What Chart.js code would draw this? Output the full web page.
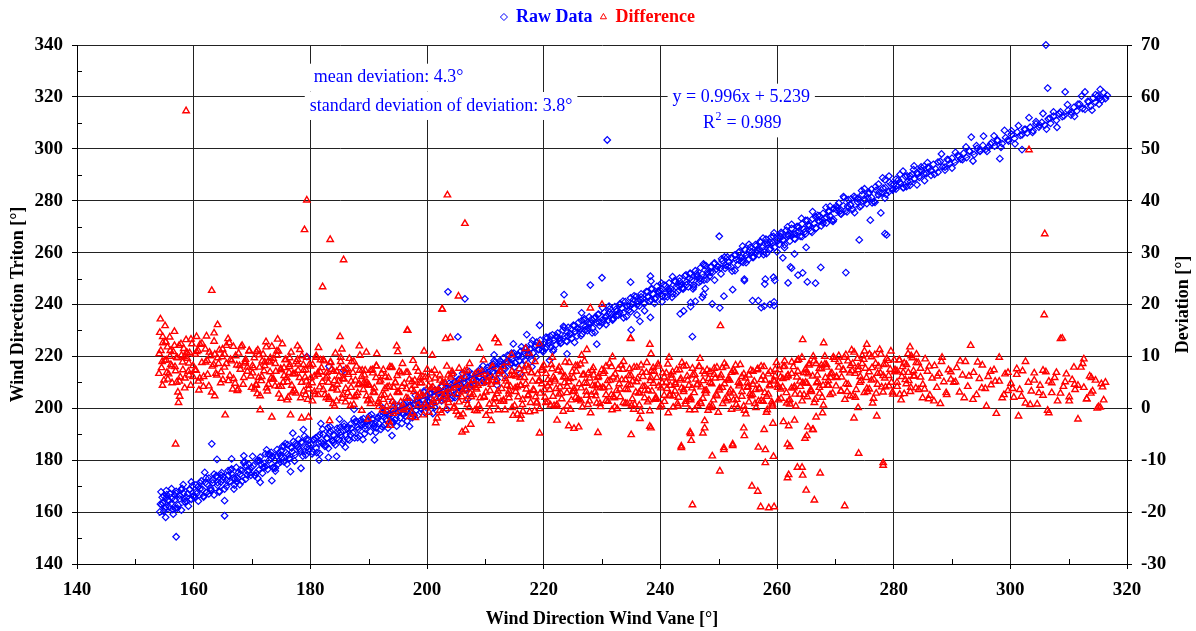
<!DOCTYPE html>
<html><head><meta charset="utf-8">
<script src="https://cdn.jsdelivr.net/npm/chart.js@4.4.1/dist/chart.umd.min.js"></script>
<style>html,body{margin:0;padding:0;background:#fff;}</style>
</head><body>
<canvas id="c" width="1196" height="631"></canvas>
<script>
// ---------- axis ticks ----------
const xTickValues = [140,160,180,200,220,240,260,280,300,320];
const yTickValues = [140,160,180,200,220,240,260,280,300,320,340];
const devTickValues = [-30,-20,-10,0,10,20,30,40,50,60,70];
const xMinorTicks = [150,170,190,210,230,250,270,290,310];
const yMinorTicks = [150,170,190,210,230,250,270,290,310,330];

// ---------- Raw Data: wind vane direction vs Triton direction ----------
const rawVane = [
154.2,154.4,154.7,154.9,155.1,155.3,155.6,155.8,156.0,156.3,
156.5,156.8,157.0,157.3,157.6,157.9,158.2,158.5,158.8,159.1,
159.3,159.6,159.8,155.2,156.9,158.0,157.0,155.3,154.5,156.2,
160.1,160.4,160.8,161.1,161.3,161.7,162.0,162.2,162.6,162.9,
163.2,163.5,163.9,164.1,164.4,164.8,165.0,165.3,165.3,165.6,
165.9,166.2,166.6,166.9,167.3,167.5,167.9,168.3,168.6,168.9,
169.2,169.5,169.8,163.0,164.7,166.5,168.0,161.9,160.5,167.0,
170.2,170.5,170.9,171.2,171.4,171.8,172.1,172.3,172.7,173.0,
173.3,173.6,173.9,174.3,174.5,174.9,175.2,175.5,175.8,176.1,
176.4,176.8,177.1,177.4,177.7,178.0,178.3,178.6,179.0,179.4,
179.7,171.0,173.5,175.0,177.0,178.8,174.0,176.0,172.5,179.2,
163.1,164.0,168.6,171.4,173.4,176.6,178.4,183.1,181.8,183.2,
185.7,179.4,
180.1,180.4,180.7,181.0,181.3,181.6,181.9,182.2,182.5,182.8,
183.1,183.4,183.7,184.0,184.3,184.6,184.9,185.2,185.5,185.8,
186.1,186.4,186.7,187.0,187.3,187.6,187.9,188.2,188.5,188.8,
189.1,189.4,189.7,181.5,184.5,186.0,187.5,189.0,185.0,183.0,
190.0,190.3,190.6,190.9,191.2,191.5,191.8,192.1,192.4,192.7,
193.0,193.3,193.6,193.9,194.2,194.5,194.8,195.1,195.4,195.7,
196.0,196.3,196.6,196.9,197.2,197.5,197.8,198.1,198.4,198.7,
199.0,199.3,199.6,199.9,191.0,194.0,197.0,192.5,196.0,198.0,
200.2,200.5,200.8,201.1,201.4,201.7,202.0,202.3,202.6,202.9,
203.2,203.5,203.8,204.1,204.4,204.7,205.0,205.3,205.6,205.9,
206.2,206.5,206.8,207.1,207.4,207.7,208.0,208.3,208.6,208.9,
209.2,209.5,209.8,201.0,203.5,205.3,206.5,203.6,207.0,204.5,
210.1,210.4,210.7,211.0,211.3,211.6,211.9,212.2,212.5,212.8,
213.1,213.4,213.7,214.0,214.3,214.6,214.9,215.2,215.5,215.8,
216.1,216.4,216.7,217.0,217.3,217.6,217.9,218.2,218.5,218.8,
219.1,219.4,219.7,211.5,214.8,217.1,219.3,212.0,216.0,218.0,
220.0,220.3,220.6,220.9,221.2,221.5,221.8,222.1,222.4,222.7,
223.0,223.3,223.6,223.9,224.2,224.5,224.8,225.1,225.4,225.7,
226.0,226.3,226.6,226.9,227.2,227.5,227.8,228.1,228.4,228.7,
229.0,229.3,229.6,223.5,228.0,230.0,229.1,221.0,224.0,226.5,
230.1,230.4,230.7,231.0,231.3,231.6,231.9,232.2,232.5,232.8,
233.1,233.4,233.7,234.0,234.3,234.6,234.9,235.2,235.5,235.8,
236.1,236.4,236.7,237.0,237.3,237.6,237.9,238.2,238.5,238.8,
239.1,239.4,239.7,230.9,234.9,238.3,238.4,238.3,235.0,236.5,
240.0,240.3,240.6,240.9,241.2,241.5,241.8,242.1,242.4,242.7,
243.0,243.3,243.6,243.9,244.2,244.5,244.8,245.1,245.4,245.7,
246.0,246.3,246.6,246.9,247.2,247.5,247.8,248.1,248.4,248.7,
249.0,249.3,249.6,243.4,245.5,245.2,245.2,247.2,247.4,247.7,
248.9,250.2,250.1,244.0,246.0,
250.3,250.6,250.9,251.2,251.5,251.8,252.1,252.4,252.7,253.0,
253.3,253.6,253.9,254.2,254.5,254.8,255.1,255.4,255.7,256.0,
256.3,256.6,256.9,257.2,257.5,257.8,258.1,258.4,258.7,259.0,
259.3,259.6,254.4,254.4,255.8,256.8,257.3,257.8,258.8,259.5,
257.9,258.0,259.4,259.5,259.6,
260.1,260.4,260.7,261.0,261.3,261.6,261.9,262.2,262.5,262.8,
263.1,263.4,263.7,264.0,264.3,264.6,264.9,265.2,265.5,265.8,
266.1,266.4,266.7,267.0,267.3,267.6,267.9,268.2,268.5,268.8,
269.1,269.4,269.7,261.9,262.3,262.5,263.6,264.4,265.2,266.6,
267.5,261.0,263.0,265.0,
270.2,270.6,271.0,271.4,271.8,272.2,272.6,273.0,273.4,273.8,
274.2,274.6,275.0,275.4,275.8,276.2,276.6,277.0,277.4,277.8,
278.2,278.5,278.8,279.2,279.6,271.8,274.1,278.5,278.5,276.0,
280.0,280.4,280.8,281.2,281.6,282.0,282.4,282.8,283.2,283.6,
284.0,284.4,284.8,285.2,285.6,286.0,286.4,286.8,287.2,287.6,
288.0,288.4,288.8,289.2,289.6,
290.0,290.5,291.0,291.5,292.0,292.5,293.0,293.3,293.8,294.3,
294.8,295.3,295.8,296.3,296.8,297.3,297.8,298.2,298.6,299.2,
299.7,
300.2,300.7,301.2,301.7,302.0,302.4,302.9,303.4,303.9,304.4,
304.9,305.4,305.9,306.4,306.1,306.5,306.9,307.4,307.9,308.4,
308.9,309.4,309.9,310.4,310.9,311.4,311.9,312.4,312.8,313.3,
313.8,314.2,314.6,315.0,315.4,315.7,316.0,316.3,316.6,315.2,
154.3,154.9,155.4,156.1,156.7,157.2,157.9,158.4,159.0,159.6,
160.2,160.8,161.5,162.1,162.6,163.3,163.9,164.4,165.1,165.7,
166.3,166.8,167.4,168.0,168.7,169.2,169.9,170.5,171.0,171.6,
172.2,172.8,173.3,174.0,174.6,175.1,175.7,176.4,176.9,177.5,
178.1,178.7,179.3,179.8,180.5,181.1,181.6,182.2,182.9,183.4,
184.0,184.7,185.2,185.8,186.4,187.0,187.6,188.1,188.8,189.4,
190.1,190.6,191.3,191.9,192.4,193.1,193.7,194.2,194.9,195.5,
196.0,196.6,197.2,197.8,198.3,199.0,199.5,200.1,200.7,201.3,
201.9,202.5,203.1,203.7,204.2,204.8,205.4,206.0,206.6,207.2,
207.8,208.4,209.0,209.6,210.2,210.8,211.4,212.0,212.6,213.2,
213.8,214.4,215.0,215.6,216.2,216.8,217.4,218.0,218.6,219.2,
219.8,220.4,221.0,221.6,222.2,222.8,223.4,224.0,224.6,225.2,
225.8,226.4,227.0,227.6,228.2,228.8,229.4,230.0,230.6,231.2,
231.8,232.4,233.0,233.6,234.2,234.8,235.4,236.0,236.6,237.2,
237.8,238.4,239.0,239.6,240.2,240.8,241.4,242.0,242.6,243.2,
243.8,244.4,245.0,245.6,246.2,246.8,247.4,248.0,248.6,249.2,
249.8,250.4,251.0,251.6,252.2,252.8,253.4,254.0,254.6,255.2,
255.8,256.4,257.0,257.6,258.2,258.8,259.4,260.0,260.6,261.2,
261.8,262.4,263.0,263.6,264.2,264.8,265.4,266.0,266.6,267.2,
267.8,268.4,269.0,269.6,270.2,270.8,271.4,272.0,272.6,273.2,
273.8,274.4,275.0,275.6,276.2,276.8,277.4,278.0,278.6,279.2,
279.8,280.4,281.0,281.6,282.2,282.8,283.4,284.0,284.6,285.2,
285.8,286.4,287.0,287.6,288.2,288.8,289.4,290.0,290.6,291.2,
291.8,292.4,293.0,293.6,294.2,294.8,295.4,296.0,296.6,297.2,
297.8,298.4,299.0,299.6,300.2,300.8,301.4,302.0,302.6,303.2,
303.8,304.4,305.0,305.6,306.2,306.8,307.4,308.0,308.6,309.2,
309.8,310.4,311.0,311.6,312.2,312.8,313.4,314.0,314.6,315.3,
154.6,155.2,155.8,156.4,157.0,157.6,158.2,158.8,159.3,159.9,
160.5,161.1,161.7,162.3,162.9,163.5,164.1,164.7,165.3,165.9,
166.5,167.1,167.7,168.3,168.9,169.5,170.1,170.7,171.3,171.9,
172.5,173.1,173.7,174.3,174.9,175.5,176.1,176.7,177.3,177.9,
178.5,179.1,179.7,180.3,180.9,181.5,182.1,182.7,183.3,183.9,
184.5,185.1,185.7,186.3,186.9,187.5,188.1,188.7,189.3,189.9,
190.5,191.1,191.7,192.3,192.9,193.5,194.1,194.7,195.3,195.9,
196.5,197.1,197.7,198.3,198.9,199.5,200.1,200.7,201.3,201.9,
202.5,203.1,203.7,204.3,204.9,205.5,206.1,206.7,207.3,207.9,
208.5,209.1,209.7,210.3,210.9,211.5,212.1,212.7,213.3,213.9,
214.5,215.1,215.7,216.3,216.9,217.5,218.1,218.7,219.3,219.9,
220.5,221.1,221.7,222.3,222.9,223.5,224.1,224.7,225.3,225.9,
226.5,227.1,227.7,228.3,228.9,229.5,230.1,230.7,231.3,231.9,
232.5,233.1,233.7,234.3,234.9,235.5,236.1,236.7,237.3,237.9,
238.5,239.1,239.7,240.3,240.9,241.5,242.1,242.7,243.3,243.9,
244.5,245.1,245.7,246.3,246.9,247.5,248.1,248.7,249.3,249.9,
250.5,251.1,251.7,252.3,252.9,253.5,254.1,254.7,255.3,255.9,
256.5,257.1,257.7,258.3,258.9,259.5,260.1,260.7,261.3,261.9,
262.5,263.1,263.7,264.3,264.9,265.5,266.1,266.7,267.3,267.9,
268.5,269.1,269.7,270.3,270.9,271.5,272.1,272.7,273.3,273.9,
274.5,275.1,275.7,276.3,276.9,277.5,278.1,278.7,279.3,279.9,
280.5,281.1,281.7,282.3,282.9,283.5,284.1,284.7,285.3,285.9
];
const rawTriton = [
160.1,167.8,163.5,166.2,161.4,168.3,164.6,162.0,167.1,165.3,
159.2,164.8,168.0,162.7,166.5,160.8,167.4,163.9,165.7,162.3,
168.6,164.9,170.2,158.0,161.5,169.1,150.5,165.5,162.8,169.0,
166.3,170.5,164.2,168.9,172.0,165.8,171.4,167.5,173.1,169.2,
172.4,166.6,174.0,170.3,168.1,175.2,172.5,164.4,158.6,169.9,
176.0,171.8,174.5,168.9,177.2,173.0,170.6,176.1,179.0,172.7,
175.8,178.3,174.2,168.4,171.7,180.5,174.6,175.3,168.0,170.4,
177.9,174.1,179.6,176.3,181.2,175.0,178.8,182.4,176.5,180.1,
183.0,177.2,179.9,184.1,178.6,181.8,185.3,179.4,182.9,186.0,
180.8,184.7,187.2,182.1,185.5,188.0,183.4,186.6,189.3,184.9,
187.8,173.0,181.5,183.6,190.4,191.8,175.8,178.5,184.0,182.0,
186.3,180.3,181.7,171.5,172.1,175.6,176.9,181.1,194.1,216.2,
214.6,219.9,
186.0,183.2,187.9,184.7,189.1,182.6,186.8,190.0,185.3,188.4,
184.6,191.2,187.5,189.6,185.9,192.3,188.0,190.9,186.4,193.0,
189.8,192.6,187.7,194.1,190.5,188.6,195.0,191.9,189.4,193.7,
196.0,192.1,194.9,180.0,181.5,185.0,199.6,188.0,195.8,192.5,
193.5,191.0,195.8,192.9,190.7,196.4,194.0,191.9,197.1,193.6,
195.9,192.4,197.5,194.8,199.0,195.5,193.1,198.6,196.3,194.2,
199.8,197.0,195.1,200.6,198.3,196.4,201.7,199.2,197.3,202.1,
200.0,203.4,198.4,201.6,187.8,189.5,193.0,198.5,201.8,205.0,
202.8,205.6,201.3,204.9,207.1,202.6,206.3,204.0,208.4,203.5,
207.7,205.1,209.6,206.4,204.8,210.2,207.9,206.0,211.1,208.6,
209.9,207.4,212.0,210.5,208.3,213.2,211.0,209.4,213.8,211.9,
214.5,210.9,212.8,198.0,199.5,227.5,242.2,244.9,203.5,213.0,
213.0,215.8,212.2,216.6,214.1,217.7,215.0,213.6,218.3,216.4,
219.4,215.2,217.9,220.1,216.8,219.0,221.3,217.5,220.6,218.4,
222.0,219.6,221.5,223.4,220.2,222.8,224.9,221.3,223.7,225.5,
222.6,226.3,224.0,220.6,224.8,228.4,232.0,208.9,213.4,216.0,
224.8,222.9,227.1,225.0,223.4,228.3,226.2,224.5,229.0,226.9,
225.3,230.1,227.8,226.0,231.2,228.9,227.0,232.0,229.6,227.8,
233.1,230.5,228.7,234.0,231.6,229.9,235.2,232.8,230.9,234.6,
233.0,236.1,231.8,243.8,247.5,250.3,224.7,218.5,221.0,236.8,
234.2,237.0,235.5,233.8,238.3,236.1,234.7,239.2,237.4,235.9,
240.3,238.6,236.7,241.1,239.4,237.8,242.5,240.2,238.4,243.0,
241.2,239.5,244.1,242.3,240.4,245.0,243.1,241.3,246.2,244.0,
242.5,247.0,245.1,303.4,248.6,250.9,249.0,235.0,230.2,233.5,
245.4,243.1,247.6,244.8,242.9,248.3,246.0,244.2,249.1,246.8,
245.0,250.2,247.6,245.9,251.0,248.7,246.8,252.1,249.5,247.5,
253.0,250.6,248.5,254.2,251.7,249.4,255.0,252.6,250.8,254.4,
252.5,256.0,253.6,236.4,227.6,240.8,239.2,242.8,243.9,246.1,
240.2,238.7,266.3,237.5,241.2,
254.0,256.8,243.2,255.1,258.3,256.4,254.6,245.7,259.0,257.2,
255.3,260.4,258.0,256.2,261.2,259.1,257.3,262.0,260.3,258.4,
263.1,261.0,259.2,264.0,261.9,260.3,265.2,263.0,261.1,266.0,
263.8,262.0,249.2,249.8,241.5,241.5,238.8,239.4,240.0,241.0,
247.9,249.8,250.5,239.6,249.3,
265.5,263.2,267.8,264.9,263.0,268.6,266.5,264.4,269.3,267.1,
265.2,270.0,268.2,266.3,271.1,269.0,267.2,272.4,270.2,268.3,
273.0,271.2,269.4,274.3,272.0,270.3,275.1,273.2,271.4,276.0,
274.1,272.4,277.0,248.3,254.5,254.0,251.3,252.2,248.7,248.2,
254.3,258.0,259.5,262.0,
276.5,279.1,274.8,278.0,276.2,280.4,278.3,276.7,281.2,279.5,
277.6,282.4,280.6,278.9,283.2,281.3,279.6,284.0,282.2,275.3,
284.8,267.3,266.8,283.5,286.4,252.3,264.9,281.0,288.0,272.5,
286.3,284.5,288.0,286.8,285.0,289.4,287.3,285.9,290.2,288.4,
290.8,289.0,291.6,293.2,290.4,292.5,289.8,294.0,292.3,291.0,
295.1,293.0,291.8,295.9,294.2,
296.4,294.8,297.5,296.0,298.3,296.6,299.0,304.5,297.8,300.2,
299.0,301.3,299.8,300.7,302.4,301.0,303.1,296.2,302.0,304.3,
303.0,
305.6,304.0,306.4,305.2,299.7,307.5,306.1,308.3,307.0,309.6,
308.4,310.2,309.1,323.4,340.0,311.5,309.8,312.6,311.0,313.5,
312.4,321.9,314.8,313.0,316.0,314.6,317.2,315.5,321.9,318.4,
316.5,319.6,318.0,320.5,322.9,318.8,321.6,319.3,320.6,317.2,
163.1,160.3,166.7,163.2,166.6,161.5,168.6,165.0,167.1,171.6,
165.7,169.9,168.7,173.1,167.0,171.3,173.7,167.7,173.7,172.2,
176.2,173.2,171.6,176.3,179.5,174.3,177.2,174.1,180.0,178.4,
177.4,182.3,180.7,176.9,182.8,180.8,186.4,180.6,183.3,186.5,
184.4,181.6,188.1,184.4,187.9,182.9,189.8,186.3,188.5,192.9,
186.8,191.1,189.7,194.1,188.1,192.3,194.7,188.7,194.7,193.2,
197.0,194.0,192.5,197.2,200.2,195.2,198.0,194.8,200.9,199.3,
197.7,202.6,201.1,197.2,203.0,201.2,206.7,200.8,203.6,206.8,
205.7,202.9,209.4,205.8,209.1,204.1,211.1,207.6,209.7,214.2,
209.1,213.3,212.0,216.4,210.4,214.6,217.0,211.1,217.0,215.5,
220.4,217.5,215.9,220.6,223.7,218.6,221.4,218.3,224.3,222.7,
222.5,227.4,225.9,222.0,227.9,226.0,231.6,225.7,228.5,231.7,
230.8,228.0,234.5,230.9,234.3,229.3,236.3,232.8,234.9,239.4,
234.0,238.2,236.9,241.3,235.3,239.5,241.9,236.0,241.9,240.4,
244.9,242.0,240.4,245.1,248.2,243.1,245.9,242.8,248.8,247.2,
246.5,251.4,249.9,246.0,251.9,250.0,255.6,249.7,252.5,255.7,
254.6,251.8,258.3,254.7,258.1,253.1,260.1,256.6,258.7,263.2,
258.3,262.5,261.2,265.6,259.6,263.8,266.2,260.3,266.2,264.7,
269.9,267.0,265.4,270.1,273.2,268.1,270.9,267.8,273.8,272.2,
272.5,277.4,275.9,272.0,277.9,276.0,281.6,275.7,278.5,281.7,
280.9,278.1,284.6,281.0,284.4,279.4,286.4,282.9,285.0,289.5,
284.1,288.3,287.0,291.4,285.4,289.6,292.0,286.1,292.0,290.5,
294.7,291.8,290.2,294.9,298.0,292.9,295.7,292.6,298.6,297.0,
295.8,300.7,299.2,295.3,301.2,299.3,304.9,299.0,301.8,305.0,
303.4,300.6,307.1,303.5,306.9,301.9,308.9,305.4,307.5,312.0,
306.3,310.5,309.2,313.6,307.6,311.8,314.2,308.3,314.2,312.7,
317.0,314.1,312.5,317.2,320.3,315.2,318.0,314.9,320.9,319.4,
165.7,162.0,164.4,161.0,167.2,165.1,170.6,164.2,168.8,166.1,
167.1,171.3,166.2,170.8,168.5,174.6,171.4,174.2,168.9,174.1,
176.6,172.9,175.3,171.9,178.1,176.0,181.5,175.1,179.8,177.1,
177.9,182.1,177.0,181.6,179.3,185.4,182.2,185.0,179.7,184.9,
187.1,183.4,185.8,182.4,188.6,186.5,192.0,185.6,190.3,187.6,
188.4,192.6,187.5,192.1,189.8,195.9,192.7,195.5,190.2,195.4,
197.6,193.9,196.3,192.9,199.1,197.0,202.5,196.1,200.8,198.1,
198.6,202.8,197.7,202.3,200.0,206.1,202.9,205.7,200.4,205.6,
208.6,204.9,207.3,203.9,210.1,208.0,213.5,207.1,211.8,209.1,
210.9,215.1,210.0,214.6,212.3,218.4,215.2,218.0,212.7,217.9,
221.3,217.6,220.0,216.6,222.8,220.7,226.2,219.8,224.5,221.8,
223.6,227.8,222.7,227.3,225.0,231.1,227.9,230.7,225.4,230.6,
233.8,230.1,232.5,229.1,235.3,233.2,238.7,232.3,237.0,234.3,
235.8,240.0,234.9,239.5,237.2,243.3,240.1,242.9,237.6,242.8,
245.8,242.1,244.5,241.1,247.3,245.2,250.7,244.3,249.0,246.3,
247.6,251.8,246.7,251.3,249.0,255.1,251.9,254.7,249.4,254.6,
257.6,253.9,256.3,252.9,259.1,257.0,262.5,256.1,260.8,258.1,
260.1,264.3,259.2,263.8,261.5,267.6,264.4,267.2,261.9,267.1,
270.9,267.2,269.6,266.2,272.4,270.3,275.8,269.4,274.1,271.4,
273.6,277.8,272.7,277.3,275.0,281.1,277.9,280.7,275.4,280.6,
283.9,280.2,282.6,279.2,285.4,283.3,288.8,282.4,287.1,284.4,
285.9,290.1,285.0,289.6,287.3,293.4,290.2,293.0,287.7,292.9
];

// ---------- Difference: wind vane direction vs deviation ----------
const diffVane = [
154.1,154.3,154.5,154.7,154.9,155.1,155.3,155.5,155.7,155.9,
156.1,156.3,156.5,156.7,156.9,157.1,157.3,157.5,157.7,157.9,
158.1,158.3,158.5,158.7,158.9,159.1,159.3,159.5,159.7,159.9,
154.6,155.4,156.0,156.8,157.6,158.4,159.2,155.2,157.4,158.8,
160.2,160.5,160.8,161.1,161.4,161.7,162.0,162.3,162.6,162.9,
163.2,163.5,163.8,164.1,164.4,164.7,165.0,165.3,165.6,165.9,
166.2,166.5,166.8,167.1,167.4,167.7,168.0,168.3,168.6,168.9,
169.2,169.5,169.8,160.9,162.2,163.6,164.9,166.1,167.6,168.8,
170.1,170.4,170.7,171.0,171.3,171.6,171.9,172.2,172.5,172.8,
173.1,173.4,173.7,174.0,174.3,174.6,174.9,175.2,175.5,175.8,
176.1,176.4,176.7,177.0,177.3,177.6,177.9,178.2,178.5,178.8,
179.1,179.4,179.7,170.9,172.4,174.4,176.2,177.8,179.2,175.0,
180.1,180.4,180.7,181.0,181.3,181.6,181.9,182.2,182.5,182.8,
183.1,183.4,183.7,184.0,184.3,184.6,184.9,185.2,185.5,185.8,
186.1,186.4,186.7,187.0,187.3,187.6,187.9,188.2,188.5,188.8,
189.1,189.4,189.7,181.4,183.9,185.4,186.9,188.4,189.9,184.5,
190.1,190.4,190.7,191.0,191.3,191.6,191.9,192.2,192.5,192.8,
193.1,193.4,193.7,194.0,194.3,194.6,194.9,195.2,195.5,195.8,
196.1,196.4,196.7,197.0,197.3,197.6,197.9,198.2,198.5,198.8,
199.1,199.4,199.7,191.4,193.5,195.0,196.6,198.0,199.5,194.2,
200.1,200.4,200.7,201.0,201.3,201.6,201.9,202.2,202.5,202.8,
203.1,203.4,203.7,204.0,204.3,204.6,204.9,205.2,205.5,205.8,
206.1,206.4,206.7,207.0,207.3,207.6,207.9,208.2,208.5,208.8,
209.1,209.4,209.7,200.9,202.6,203.5,206.5,204.0,205.4,206.6,
203.2,206.0,201.5,207.5,209.0,
210.1,210.4,210.7,211.0,211.3,211.6,211.9,212.2,212.5,212.8,
213.1,213.4,213.7,214.0,214.3,214.6,214.9,215.2,215.5,215.8,
216.1,216.4,216.7,217.0,217.3,217.6,217.9,218.2,218.5,218.8,
219.1,219.4,219.7,211.7,212.2,216.9,219.3,216.0,216.1,219.3,
214.5,217.5,211.0,
220.1,220.4,220.7,221.0,221.3,221.6,221.9,222.2,222.5,222.8,
223.1,223.4,223.7,224.0,224.3,224.6,224.9,225.2,225.5,225.8,
226.1,226.4,226.7,227.0,227.3,227.6,227.9,228.2,228.5,228.8,
229.1,229.4,229.7,223.5,228.0,222.3,224.3,225.2,226.0,227.4,
229.3,221.5,226.5,
230.1,230.4,230.7,231.0,231.3,231.6,231.9,232.2,232.5,232.8,
233.1,233.4,233.7,234.0,234.3,234.6,234.9,235.2,235.5,235.8,
236.1,236.4,236.7,237.0,237.3,237.6,237.9,238.2,238.5,238.8,
239.1,239.4,239.7,230.0,234.9,238.2,238.4,235.0,238.4,238.2,
234.9,231.8,236.5,
240.1,240.4,240.7,241.0,241.3,241.6,241.9,242.2,242.5,242.8,
243.1,243.4,243.7,244.0,244.3,244.6,244.9,245.2,245.5,245.8,
246.1,246.4,246.7,247.0,247.3,247.6,247.9,248.2,248.5,248.8,
249.1,249.4,249.7,245.5,243.6,245.2,245.3,247.3,247.6,247.6,
248.9,245.1,243.6,241.5,246.8,
250.1,250.4,250.7,251.0,251.3,251.6,251.9,252.2,252.5,252.8,
253.1,253.4,253.7,254.0,254.3,254.6,254.9,255.2,255.5,255.8,
256.1,256.4,256.7,257.0,257.3,257.6,257.9,258.2,258.5,258.8,
259.1,259.4,259.7,250.2,250.9,250.3,252.4,250.9,252.4,255.7,
256.7,257.2,258.6,259.5,258.0,259.4,256.8,258.0,254.3,254.4,
257.8,259.3,
260.1,260.4,260.7,261.0,261.3,261.6,261.9,262.2,262.5,262.8,
263.1,263.4,263.7,264.0,264.3,264.6,264.9,265.2,265.5,265.8,
266.1,266.4,266.7,267.0,267.3,267.6,267.9,268.2,268.5,268.8,
269.1,269.4,269.7,261.8,262.0,264.4,263.5,264.3,265.0,266.4,
267.4,261.8,262.2,264.8,265.1,265.3,266.1,261.1,262.0,263.0,
266.7,267.8,264.4,268.0,266.2,
270.2,270.6,271.0,271.4,271.8,272.2,272.6,273.0,273.4,273.8,
274.2,274.6,275.0,275.4,275.8,276.2,276.6,277.0,277.4,277.8,
278.2,278.6,279.0,279.4,279.8,271.6,274.0,278.2,278.2,273.2,
273.9,277.1,275.4,272.8,276.4,
280.2,280.6,281.0,281.4,281.8,282.2,282.6,283.0,283.4,283.8,
284.2,284.6,285.0,285.4,285.8,286.2,286.6,287.0,287.4,287.8,
288.2,288.6,289.0,289.4,289.8,282.8,286.0,288.0,
290.3,290.8,291.3,291.8,292.3,292.7,293.2,293.7,294.2,294.7,
295.2,295.7,296.2,296.7,297.2,297.6,298.1,298.6,299.1,299.6,
300.1,300.6,301.1,301.4,301.6,302.1,302.6,303.1,303.2,303.6,
304.1,304.6,305.1,305.6,305.9,305.8,306.1,306.6,306.6,307.1,
307.6,308.1,308.6,308.9,309.1,309.6,310.1,310.6,311.1,311.6,
312.1,312.6,313.1,313.6,314.1,314.6,315.1,315.6,316.0,316.3,
312.6,313.8,314.9,311.0,315.8,
158.7,163.1,164.1,163.5,154.2,154.7,160.5,179.4,179.0,183.4,
185.7,182.1,185.1,196.7,202.6,156.9,165.4,171.4,173.4,176.6,
178.5,179.7,183.3,189.9,193.7,211.7,194.8,189.6,
154.05,154.38,154.66,155.02,155.21,155.57,155.93,156.24,156.71,157.08,
157.22,157.55,157.83,158.15,158.46,158.92,159.18,159.54,159.88,160.27,
160.41,160.77,161.05,161.42,161.66,162.04,162.39,162.72,163.08,163.45,
163.62,163.97,164.26,164.63,164.95,165.28,165.61,165.97,166.32,166.69,
166.84,167.19,167.47,167.86,168.12,168.48,168.83,169.21,169.54,169.92,
170.08,170.43,170.74,171.12,171.39,171.75,172.06,172.44,172.81,173.12,
173.27,173.63,173.95,174.28,174.61,174.99,175.33,175.66,176.02,176.35,
176.48,176.83,177.14,177.52,177.81,178.16,178.54,178.87,179.23,179.55,
179.69,180.02,180.37,180.68,181.04,181.33,181.72,182.05,182.38,182.74,
182.86,183.21,183.49,183.88,184.17,184.53,184.86,185.22,185.57,185.93,
186.07,186.41,186.78,187.09,187.45,187.73,188.12,188.46,188.81,189.13,
189.28,189.64,189.92,190.31,190.62,190.97,191.35,191.66,192.03,192.37,
192.51,192.86,193.17,193.52,193.84,194.23,194.55,194.91,195.24,195.58,
195.72,196.05,196.43,196.74,197.11,197.42,197.79,198.13,198.45,198.82,
198.96,199.32,199.63,200.04,200.36,200.72,201.03,201.39,201.74,202.08,
202.24,202.57,202.93,203.26,203.64,203.95,204.31,204.66,204.98,205.35,
205.49,205.82,206.18,206.53,206.85,207.24,207.56,207.93,208.27,208.59,
208.74,209.08,209.42,209.77,210.12,210.46,210.81,211.15,211.48,211.84,
211.97,212.34,212.68,213.01,213.37,213.72,214.05,214.41,214.76,215.12,
215.31,215.64,216.02,216.35,216.71,217.04,217.42,217.75,218.09,218.46,
218.62,218.97,219.31,219.68,220.02,220.38,220.73,221.06,221.44,221.79,
221.93,222.28,222.65,222.97,223.35,223.69,224.04,224.37,224.74,225.08,
225.25,225.61,225.93,226.31,226.64,226.99,227.36,227.68,228.05,228.39,
228.57,228.93,229.27,229.64,229.97,230.33,230.68,231.03,231.39,231.72,
231.91,232.26,232.61,232.95,233.32,233.66,234.01,234.38,234.72,235.07,
235.24,235.59,235.96,236.29,236.63,237.01,237.34,237.69,238.05,238.38,
238.56,238.91,239.27,239.62,239.95,240.31,240.66,241.02,241.36,241.71,
241.88,242.24,242.58,242.93,243.29,243.64,243.98,244.33,244.69,245.03,
245.21,245.56,245.91,246.27,246.61,246.96,247.32,247.66,248.01,248.37,
248.54,248.89,249.24,249.58,249.93,250.29,250.63,250.98,251.34,251.68,
251.86,252.21,252.55,252.91,253.26,253.61,253.96,254.31,254.66,255.01,
255.18,255.53,255.88,256.23,256.58,256.93,257.28,257.63,257.98,258.33,
258.51,258.86,259.21,259.56,259.91,260.26,260.61,260.96,261.31,261.66,
261.83,262.18,262.53,262.88,263.23,263.58,263.93,264.28,264.63,264.98,
265.16,265.51,265.86,266.21,266.56,266.91,267.26,267.61,267.96,268.31,
268.49,268.84,269.19,269.54,269.89,270.24,270.59,270.94,271.29,271.64,
271.82,272.17,272.52,272.87,273.22,273.57,273.92,274.27,274.62,274.97,
275.15,275.50,275.85,276.20,276.55,276.90,277.25,277.60,277.95,278.30,
278.48,278.83,279.18,279.53,279.88,280.23,280.58,280.93,281.28,281.63,
281.81,282.16,282.51,282.86,283.21,283.56,283.91,284.26,284.61,284.96,
285.3,286.1,286.9,287.5,288.3,289.1,289.8,290.6,291.4,292.1,
292.9,293.6,294.4,295.1,295.9,296.6,297.4,298.1,298.9,299.6,
300.4,301.1,301.9,302.6,303.4,304.1,304.9,305.6,306.4,307.1,
307.9,308.6,309.4,310.1,310.9,311.6,312.4,313.1,313.9,315.4,
170.25,170.72,171.21,171.68,172.17,172.63,173.14,173.58,174.09,174.53,
175.04,175.49,175.97,176.46,176.93,177.41,177.88,178.36,178.84,179.31,
179.83,180.31,180.79,181.26,181.74,182.21,182.69,183.17,183.64,184.12,
184.61,185.08,185.56,186.03,186.51,186.98,187.46,187.94,188.41,188.89,
189.37,189.84,190.32,190.79,191.27,191.74,192.22,192.69,193.17,193.64,
194.12,194.59,195.07,195.54,196.02,196.49,196.97,197.44,197.92,198.39,
198.87,199.34,199.82,200.29,200.77,201.24,201.72,202.19,202.67,203.14,
203.62,204.09,204.57,205.04,205.52,205.99,206.47,206.94,207.42,207.89,
208.37,208.84,209.32,209.79,210.27,210.74,211.22,211.69,212.17,212.64,
213.12,213.59,214.07,214.54,215.02,215.49,215.97,216.44,216.92,217.39,
217.87,218.34,218.82,219.29,219.77,220.24,220.72,221.19,221.67,222.14,
222.62,223.09,223.57,224.04,224.52,224.99,225.47,225.94,226.42,226.89,
227.37,227.84,228.32,228.79,229.27,229.74,230.22,230.69,231.17,231.64,
232.12,232.59,233.07,233.54,234.02,234.49,234.97,235.44,235.92,236.39,
236.87,237.34,237.82,238.29,238.77,239.24,239.72,240.19,240.67,241.14,
241.62,242.09,242.57,243.04,243.52,243.99,244.47,244.94,245.42,245.89,
246.37,246.84,247.32,247.79,248.27,248.74,249.22,249.69,250.17,250.64,
251.12,251.59,252.07,252.54,253.02,253.49,253.97,254.44,254.92,255.39,
255.87,256.34,256.82,257.29,257.77,258.24,258.72,259.19,259.67,260.14,
260.62,261.09,261.57,262.04,262.52,262.99,263.47,263.94,264.42,264.89,
265.37,265.84,266.32,266.79,267.27,267.74,268.22,268.69,269.17,269.64,
270.12,270.59,271.07,271.54,272.02,272.49,272.97,273.44,273.92,274.39,
274.87,275.34,275.82,276.29,276.77,277.24,277.72,278.19,278.67,279.14,
279.62,280.09,280.57,281.04,281.52,281.99,282.47,282.94,283.42,283.89
];
const diffDev = [
10.5,17.2,7.8,12.6,5.4,15.9,9.3,11.8,6.6,13.7,
8.4,4.9,10.9,14.8,7.2,9.8,3.1,12.1,6.0,10.2,
8.9,11.5,5.8,13.2,9.6,7.1,10.7,4.4,12.4,8.2,
9.0,6.9,11.1,8.0,2.3,9.9,6.4,12.8,1.1,10.8,
7.4,10.9,5.2,12.3,8.8,6.1,11.4,9.2,4.3,10.1,
8.1,12.9,6.7,9.7,11.2,7.0,5.5,10.4,8.6,13.4,
6.3,9.1,11.9,4.8,8.3,10.6,7.5,12.1,5.9,9.4,
7.9,11.0,6.2,3.5,13.9,2.4,9.9,12.6,3.7,8.7,
6.8,9.7,4.6,11.2,7.9,5.3,10.4,8.2,3.9,9.1,
7.0,11.9,5.6,8.6,10.2,4.2,7.6,12.4,6.3,9.4,
5.1,8.0,10.8,6.6,3.4,9.0,7.3,11.3,5.0,8.4,
6.0,9.8,4.4,2.8,12.8,13.3,2.1,12.0,2.6,1.9,
5.9,8.4,3.2,10.1,6.5,4.1,7.8,9.3,2.6,6.9,
5.0,8.8,3.8,7.1,10.6,4.6,6.2,9.0,1.9,5.6,
7.6,3.0,9.6,5.2,6.9,2.2,8.1,4.5,10.2,6.1,
3.6,7.3,5.0,11.7,0.9,11.4,0.5,12.0,1.6,1.4,
4.4,1.6,6.8,3.0,8.2,0.9,5.1,2.5,7.4,3.8,
0.4,5.9,2.1,7.9,4.0,-0.6,6.3,3.1,1.2,8.6,
4.8,2.0,6.9,0.2,3.6,9.2,5.4,1.4,7.1,2.9,
4.9,-1.3,6.0,10.5,-2.6,10.9,15.0,-1.8,11.0,-1.0,
2.7,5.6,0.5,4.1,7.3,1.9,3.5,6.4,-0.9,2.3,
5.0,8.1,1.1,3.9,6.7,0.0,4.6,2.6,7.7,-1.6,
3.3,6.1,1.5,4.3,8.6,2.2,5.4,-0.4,3.7,6.9,
2.0,4.8,9.3,10.2,19.1,41.1,35.6,13.6,21.6,-4.2,
13.4,-4.6,-2.8,-3.1,11.6,
3.1,6.2,0.8,4.6,8.0,2.0,5.3,-0.3,7.1,3.8,
1.3,5.7,8.8,2.7,4.2,0.1,6.5,3.2,-1.1,7.6,
4.4,1.7,5.9,8.3,2.4,-0.7,6.8,3.6,9.0,1.0,
5.2,2.9,7.3,13.4,12.6,11.5,12.4,-2.1,-1.4,-4.8,
10.3,10.6,-2.4,
3.6,6.7,1.2,4.9,8.4,2.3,5.6,0.4,7.3,4.1,
1.8,6.0,8.9,3.0,5.1,-0.2,7.0,3.8,2.1,8.2,
4.7,1.4,6.4,9.1,3.2,0.7,5.8,2.6,7.8,4.3,
1.0,6.1,3.9,20.0,19.3,-2.3,-3.4,-3.9,-3.6,11.3,
-4.7,9.8,10.2,
4.0,7.1,1.5,5.3,8.7,2.6,6.0,0.3,3.4,7.6,
2.2,5.5,9.0,3.7,0.9,6.3,4.5,1.8,7.9,3.1,
5.7,0.6,8.3,4.2,2.0,6.9,3.5,-0.5,7.2,4.8,
1.7,5.9,8.1,20.0,13.5,12.3,10.5,-5.1,-3.8,-3.5,
13.4,9.9,-2.0,
3.9,6.8,1.3,5.0,8.5,2.4,5.8,0.2,3.3,7.4,
2.1,5.4,8.8,3.6,0.8,6.2,4.4,1.6,7.7,3.0,
5.6,0.5,8.0,4.1,1.9,6.6,3.4,-0.4,7.0,4.7,
1.6,5.8,7.9,-18.6,-7.6,-4.9,-6.2,-4.8,-3.8,-2.4,
-9.2,-4.6,-7.3,9.8,9.6,
3.5,6.4,0.9,4.7,8.1,2.0,5.4,-0.2,2.9,7.0,
1.7,5.0,8.4,3.2,0.4,5.8,4.0,1.2,7.3,2.6,
5.2,0.1,7.6,3.7,1.5,6.2,3.0,-0.8,6.6,4.3,
1.2,5.4,7.5,-12.1,-8.0,15.9,-7.2,-7.6,-6.9,-15.0,
-16.0,-19.0,-19.2,-19.0,-10.5,-9.3,-7.5,-8.0,-3.8,-5.3,
-4.1,-2.9,
4.5,7.4,1.9,5.7,9.1,3.0,6.4,0.8,3.9,8.0,
2.7,6.0,9.4,4.2,1.4,6.8,5.0,2.2,8.3,3.6,
6.2,1.1,8.6,5.1,2.9,7.6,4.4,10.0,7.9,5.3,
2.6,6.8,9.8,-13.4,-12.8,-12.9,-11.4,-11.4,-15.8,-17.7,
-12.5,-6.9,-7.4,-5.8,-5.3,-3.6,-4.1,-2.6,-3.4,-2.3,
-1.7,-0.9,13.2,12.6,-4.1,
6.1,9.0,3.3,7.4,10.3,4.6,8.2,2.4,6.7,9.6,
5.0,8.6,11.0,3.8,7.0,9.9,5.6,2.9,8.1,10.4,
6.3,4.1,9.2,7.5,3.1,-18.8,-8.7,-10.5,-11.0,-1.9,
0.1,-1.5,12.3,11.2,1.0,
7.0,4.2,9.3,6.1,2.8,8.4,5.3,10.1,7.2,3.9,
8.8,6.0,4.6,9.5,7.1,2.5,5.8,8.2,4.0,6.7,
9.0,5.1,3.0,7.4,5.6,11.8,1.8,0.9,
5.0,7.8,3.1,6.4,9.0,4.2,12.1,6.9,2.6,5.7,
8.3,3.8,6.1,4.5,7.4,-1.0,5.2,2.0,6.6,3.4,
4.8,2.1,6.5,-1.5,3.6,7.2,1.0,5.0,49.8,3.3,
6.8,0.8,4.4,2.5,33.6,18.0,7.0,5.2,-0.9,3.0,
5.9,1.4,13.4,13.5,4.2,6.6,2.2,5.5,3.6,-2.1,
7.9,4.0,1.8,6.2,3.3,5.4,0.3,4.7,1.6,5.0,
9.5,2.9,0.0,4.6,4.1,
57.3,22.7,16.1,14.5,14.6,13.8,13.8,40.1,34.4,32.5,
28.6,23.4,13.8,15.0,19.1,-6.9,-1.3,-0.3,-1.7,-1.3,
-1.9,-1.7,-2.4,-2.1,-3.3,13.4,12.0,10.8,
6.7,11.1,4.4,9.2,12.8,5.6,10.0,8.1,12.1,5.0,
9.7,5.2,12.4,7.4,3.9,10.6,8.7,13.3,6.1,10.4,
7.3,11.1,5.8,12.5,4.2,8.9,6.5,10.8,3.1,8.4,
10.4,6.4,8.6,4.9,11.4,7.9,12.1,5.3,9.4,3.7,
5.7,10.1,3.4,8.2,11.8,4.6,9.0,7.1,11.1,4.0,
8.2,3.7,10.9,5.9,2.4,9.1,7.2,11.8,4.6,8.9,
5.8,9.6,4.3,11.0,2.7,7.4,5.0,9.3,1.6,6.9,
8.4,4.4,6.6,2.9,9.4,5.9,10.1,3.3,7.4,1.7,
3.7,8.1,1.4,6.2,9.8,2.6,7.0,5.1,9.1,2.0,
6.2,1.7,8.9,3.9,0.4,7.1,5.2,9.8,2.6,6.9,
3.8,7.6,2.3,9.0,0.7,5.4,3.0,7.3,-0.4,4.9,
6.4,2.4,4.6,0.9,7.4,3.9,8.1,1.3,5.4,-0.3,
1.7,6.1,-0.6,4.2,7.8,0.6,5.0,3.1,7.1,0.0,
4.2,-0.3,6.9,1.9,-1.6,5.1,3.2,7.8,0.6,4.9,
2.3,6.1,0.8,7.5,-0.8,3.9,1.5,5.8,-1.9,3.4,
5.4,1.4,3.6,-0.1,6.4,2.9,7.1,0.3,4.4,-1.3,
1.2,5.6,-1.1,3.7,7.3,0.1,4.5,2.6,6.6,-0.5,
4.4,-0.1,7.1,2.1,-1.4,5.3,3.4,8.0,0.8,5.1,
2.8,6.6,1.3,8.0,-0.3,4.4,2.0,6.3,-1.4,3.9,
6.2,2.2,4.4,0.7,7.2,3.7,7.9,1.1,5.2,-0.5,
2.2,6.6,-0.1,4.7,8.3,1.1,5.5,3.6,7.6,0.5,
5.2,0.7,7.9,2.9,-0.6,6.1,4.2,8.8,1.6,5.9,
3.3,7.1,1.8,8.5,0.2,4.9,2.5,6.8,-0.9,4.4,
6.4,2.4,4.6,0.9,7.4,3.9,8.1,1.3,5.4,-0.3,
2.2,6.6,-0.1,4.7,8.3,1.1,5.5,3.6,7.6,0.5,
5.2,0.7,7.9,2.9,-0.6,6.1,4.2,8.8,1.6,5.9,
3.3,7.1,1.8,8.5,0.2,4.9,2.5,6.8,-0.9,4.4,
6.4,2.4,4.6,0.9,7.4,3.9,8.1,1.3,5.4,-0.3,
2.0,6.4,-0.3,4.5,8.1,0.9,5.3,3.4,7.4,0.3,
5.0,0.5,7.7,2.7,-0.8,5.9,4.0,8.6,1.4,5.7,
3.1,6.9,1.6,8.3,0.0,4.7,2.3,6.6,-1.1,4.2,
6.4,2.4,4.6,0.9,7.4,3.9,8.1,1.3,5.4,-0.3,
2.7,7.1,0.4,5.2,8.8,1.6,6.0,4.1,8.1,1.0,
6.2,1.7,8.9,3.9,0.4,7.1,5.2,9.8,2.6,6.9,
4.8,8.6,3.3,10.0,1.7,6.4,4.0,8.3,0.6,5.9,
8.4,4.4,6.6,2.9,9.4,5.9,10.1,3.3,7.4,1.7,
4.7,9.1,2.4,7.2,10.8,3.6,8.0,6.1,10.1,3.0,
7.7,3.2,10.4,5.4,1.9,8.6,6.7,11.3,4.1,8.4,
5.8,9.6,4.3,11.0,2.7,7.4,5.0,9.3,1.6,6.9,
8.7,4.7,6.9,3.2,9.7,6.2,10.4,3.6,7.7,2.0,
3.7,8.1,1.4,6.2,9.8,2.6,7.0,5.1,9.1,2.0,
6.2,1.7,8.9,3.9,0.4,7.1,5.2,9.8,2.6,6.9,
3.8,7.6,2.3,9.0,0.7,5.4,3.0,7.3,-0.4,4.9,
6.9,2.9,5.1,1.4,7.9,4.4,8.6,1.8,5.9,0.2,
7.8,4.4,10.3,6.1,8.9,3.3,9.7,5.6,7.1,11.0,
4.2,7.8,5.9,9.7,3.1,6.7,8.5,2.0,7.3,5.2,
8.4,4.9,2.7,6.8,9.3,3.6,5.8,2.1,7.5,5.3,
3.5,7.8,5.7,1.2,6.5,4.0,9.0,2.5,4.7,7.3,
4.8,1.4,7.3,3.1,5.9,0.3,6.7,2.6,4.1,8.0,
1.3,4.9,3.0,6.8,0.2,3.8,5.6,-0.9,4.4,2.3,
5.9,2.4,0.2,4.3,6.8,1.1,3.3,-0.4,5.0,2.8,
1.7,6.0,3.9,-0.6,4.7,2.2,7.2,0.7,2.9,5.5,
4.0,0.6,6.5,2.3,5.1,-0.5,5.9,1.8,3.3,7.2,
1.6,5.2,3.3,7.1,0.5,4.1,5.9,-0.6,4.7,2.6,
6.9,3.4,1.2,5.3,7.8,2.1,4.3,0.6,6.0,3.8,
2.7,7.0,4.9,0.4,5.7,3.2,8.2,1.7,3.9,6.5,
4.8,1.4,7.3,3.1,5.9,0.3,6.7,2.6,4.1,8.0,
2.0,5.6,3.7,7.5,0.9,4.5,6.3,-0.2,5.1,3.0,
6.9,3.4,1.2,5.3,7.8,2.1,4.3,0.6,6.0,3.8,
2.7,7.0,4.9,0.4,5.7,3.2,8.2,1.7,3.9,6.5,
4.6,1.2,7.1,2.9,5.7,0.1,6.5,2.4,3.9,7.8,
1.8,5.4,3.5,7.3,0.7,4.3,6.1,-0.4,4.9,2.8,
7.1,3.6,1.4,5.5,8.0,2.3,4.5,0.8,6.2,4.0,
3.7,8.0,5.9,1.4,6.7,4.2,9.2,2.7,4.9,7.5,
6.6,3.2,9.1,4.9,7.7,2.1,8.5,4.4,5.9,9.8,
4.3,7.9,6.0,9.8,3.2,6.8,8.6,2.1,7.4,5.3,
9.4,5.9,3.7,7.8,10.3,4.6,6.8,3.1,8.5,6.3,
5.0,9.3,7.2,2.7,8.0,5.5,10.5,4.0,6.2,8.8
];

// ---------- fitted trend line (as printed on the chart) ----------
const trendSlope = 0.996;
const trendIntercept = 5.239;
const trendVaneRange = [154, 316.6];

// ---------- annotation texts ----------
const noteTexts = ['mean deviation: 4.3°', 'standard deviation of deviation: 3.8°', 'y = 0.996x + 5.239'];
const noteAnchorX = [180.6, 179.9, 242.1];
const noteAnchorY = [327.4, 316.5, 319.7];
const r2Text = ' = 0.989';
const r2Anchor = [247.3, 309.8];
const rightTitle = 'Deviation [°]';

const SERIF = '"Liberation Serif", "Times New Roman", serif';
const BLUE = '#0000ff';
const RED = '#ff0000';

function zip(a, b) {
  const n = Math.min(a.length, b.length);
  const out = [];
  for (let i = 0; i < n; i++) out.push({x: a[i], y: b[i]});
  return out;
}

const legendMargin = {
  id: 'legendMargin',
  beforeLayout(chart) {
    const lg = chart.legend;
    if (lg && !lg._patchedFit) {
      const orig = lg.fit;
      lg.fit = function () { orig.call(this); this.height += 9; };
      lg._patchedFit = true;
    }
  }
};

const notesPlugin = {
  id: 'notes',
  beforeDatasetsDraw(chart) {
    const ctx = chart.ctx;
    const xs = chart.scales.x, ys = chart.scales.y;
    const {left, right, top, bottom} = chart.chartArea;
    ctx.save();
    ctx.strokeStyle = '#000';
    ctx.lineWidth = 1;
    ctx.beginPath();
    xMinorTicks.forEach(v => {
      const p = Math.round(xs.getPixelForValue(v)) + 0.5;
      ctx.moveTo(p, bottom); ctx.lineTo(p, bottom - 5);
    });
    yMinorTicks.forEach(v => {
      const p = Math.round(ys.getPixelForValue(v)) + 0.5;
      ctx.moveTo(left, p); ctx.lineTo(left + 5, p);
    });
    ctx.stroke();

    ctx.font = '18px ' + SERIF;
    ctx.textBaseline = 'middle';
    ctx.textAlign = 'left';
    const boxes = [];
    noteTexts.forEach((t, i) => {
      const px = xs.getPixelForValue(noteAnchorX[i]);
      const py = ys.getPixelForValue(noteAnchorY[i]);
      const w = ctx.measureText(t).width;
      boxes.push([px - 5, py - 14, w + 10, 28, t, px, py]);
    });
    const rx = xs.getPixelForValue(r2Anchor[0]);
    const ry = ys.getPixelForValue(r2Anchor[1]);
    ctx.fillStyle = '#fff';
    boxes.forEach(b => ctx.fillRect(b[0], b[1], b[2], b[3]));
    const rw = ctx.measureText('R' + r2Text).width + 8;
    ctx.fillRect(rx - 5, ry - 14, rw + 10, 28);
    ctx.fillStyle = BLUE;
    boxes.forEach(b => ctx.fillText(b[4], b[5], b[6]));
    ctx.fillText('R', rx, ry);
    const wr = ctx.measureText('R').width;
    ctx.font = '12px ' + SERIF;
    ctx.fillText('2', rx + wr + 0.5, ry - 7);
    const w2 = ctx.measureText('2').width;
    ctx.font = '18px ' + SERIF;
    ctx.fillText(r2Text, rx + wr + w2 + 1, ry);
    ctx.restore();
  },
  afterDraw(chart) {
    const ctx = chart.ctx;
    const {top, bottom} = chart.chartArea;
    const s = chart.scales.y2;
    ctx.save();
    ctx.translate(s.right - 13, (top + bottom) / 2);
    ctx.rotate(-Math.PI / 2);
    ctx.font = 'bold 18px ' + SERIF;
    ctx.fillStyle = '#000';
    ctx.textAlign = 'center';
    ctx.textBaseline = 'middle';
    ctx.fillText(rightTitle, 0, 0);
    ctx.restore();
  }
};

const trendData = trendVaneRange.map(v => ({x: v, y: trendSlope * v + trendIntercept}));

new Chart(document.getElementById('c'), {
  type: 'scatter',
  data: {
    datasets: [
      {
        label: 'Trend',
        data: trendData,
        showLine: true,
        borderColor: BLUE,
        borderWidth: 1,
        pointRadius: 0,
        fill: false,
        yAxisID: 'y',
        clip: false
      },
      {
        label: 'Difference',
        data: zip(diffVane, diffDev),
        pointStyle: 'triangle',
        pointRadius: 3.7,
        borderColor: RED,
        backgroundColor: 'rgba(0,0,0,0)',
        borderWidth: 1.4,
        yAxisID: 'y2',
        clip: false
      },
      {
        label: 'Raw Data',
        data: zip(rawVane, rawTriton),
        pointStyle: 'rectRot',
        pointRadius: 3.3,
        borderColor: BLUE,
        backgroundColor: 'rgba(0,0,0,0)',
        borderWidth: 1.2,
        yAxisID: 'y',
        clip: false
      }
    ]
  },
  options: {
    responsive: false,
    animation: false,
    events: [],
    layout: {padding: {top: 0, left: 0, right: 0, bottom: 0}},
    plugins: {
      tooltip: {enabled: false},
      legend: {
        position: 'top',
        align: 'center',
        labels: {
          usePointStyle: true,
          boxWidth: 6,
          boxHeight: 5,
          padding: 8,
          font: {family: SERIF, size: 18, weight: 'bold'},
          filter: item => item.text !== 'Trend',
          sort: (a, b) => b.datasetIndex - a.datasetIndex,
          generateLabels(chart) {
            const items = Chart.defaults.plugins.legend.labels.generateLabels(chart);
            items.forEach(it => {
              const ds = chart.data.datasets[it.datasetIndex];
              it.fontColor = ds.borderColor;
              it.strokeStyle = ds.borderColor;
              it.fillStyle = 'rgba(0,0,0,0)';
              it.lineWidth = 1;
            });
            return items;
          }
        }
      }
    },
    scales: {
      x: {
        type: 'linear',
        min: 140, max: 320,
        afterBuildTicks: s => { s.ticks = xTickValues.map(v => ({value: v})); },
        afterFit: s => { s.height = 67; },
        ticks: {color: '#000', padding: 10, font: {family: SERIF, size: 19, weight: 'bold'}},
        grid: {color: '#222', lineWidth: 1, drawTicks: true, tickLength: 5, tickColor: '#000'},
        border: {display: true, color: '#000', width: 1},
        title: {display: true, text: 'Wind Direction Wind Vane [°]', color: '#000',
                font: {family: SERIF, size: 18, weight: 'bold'}, padding: {top: 0, bottom: 1}}
      },
      y: {
        type: 'linear',
        position: 'left',
        min: 140, max: 340,
        afterBuildTicks: s => { s.ticks = yTickValues.map(v => ({value: v})); },
        afterFit: s => { s.width = 77; },
        ticks: {color: '#000', padding: 9, font: {family: SERIF, size: 19, weight: 'bold'}},
        grid: {color: '#222', lineWidth: 1, drawTicks: true, tickLength: 5, tickColor: '#000'},
        border: {display: true, color: '#000', width: 1},
        title: {display: true, text: 'Wind Direction Triton [°]', color: '#000',
                font: {family: SERIF, size: 18, weight: 'bold'}, padding: {top: 8, bottom: 0}}
      },
      y2: {
        type: 'linear',
        position: 'right',
        min: -30, max: 70,
        afterBuildTicks: s => { s.ticks = devTickValues.map(v => ({value: v})); },
        afterFit: s => { s.width = 69; },
        ticks: {color: '#000', padding: 9, font: {family: SERIF, size: 19, weight: 'bold'}},
        grid: {drawOnChartArea: false, drawTicks: true, tickLength: 5, tickColor: '#000'},
        border: {display: true, color: '#000', width: 1},
        title: {display: false, text: 'Deviation [°]'}
      }
    }
  },
  plugins: [legendMargin, notesPlugin]
});
</script>
</body></html>
